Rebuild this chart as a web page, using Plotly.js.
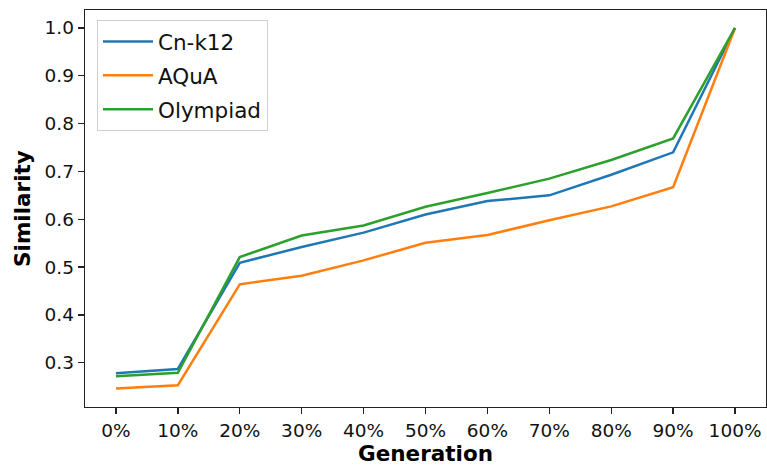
<!DOCTYPE html>
<html>
<head>
<meta charset="utf-8">
<script src="https://cdn.plot.ly/plotly-3.0.1.min.js"></script>
<style>html,body{margin:0;padding:0;background:#fff;}#chart{width:767px;height:466px;}</style>
</head>
<body>
<div id="chart"></div>
<script>
const generations = ['0%','10%','20%','30%','40%','50%','60%','70%','80%','90%','100%'];
const cnk12 = [0.278, 0.287, 0.509, 0.542, 0.572, 0.610, 0.638, 0.650, 0.693, 0.740, 1.0];
const aqua = [0.246, 0.253, 0.464, 0.482, 0.514, 0.551, 0.567, 0.598, 0.627, 0.667, 1.0];
const olympiad = [0.272, 0.279, 0.521, 0.566, 0.587, 0.626, 0.655, 0.685, 0.724, 0.769, 1.0];

const font = 'DejaVu Sans, sans-serif';
const mk = (name, y, color) => ({
  x: generations, y: y, name: name, type: 'scatter', mode: 'lines',
  legendgroup: name,
  line: {color: color, width: 2.5}
});
const data = [
  mk('Cn-k12', cnk12, '#1f77b4'),
  mk('AQuA', aqua, '#ff7f0e'),
  mk('Olympiad', olympiad, '#2ca02c')
];
const axisCommon = {
  showline: true, mirror: true, linecolor: '#222', linewidth: 1.3,
  ticks: 'outside', ticklen: 6, tickwidth: 1.3, tickcolor: '#222',
  showgrid: false, zeroline: false,
  tickfont: {family: font, size: 18.5, color: '#111'}
};
const layout = {
  width: 767, height: 466,
  margin: {l: 85, r: 1, t: 10, b: 59},
  paper_bgcolor: '#fff', plot_bgcolor: '#fff',
  font: {family: font, color: '#111'},
  showlegend: true,
  legend: {
    x: 0.0176, y: 0.975, xanchor: 'left', yanchor: 'top',
    bgcolor: 'rgba(255,255,255,0.8)', bordercolor: '#d0d0d0', borderwidth: 1,
    font: {family: font, size: 21.5, color: '#111'},
    itemwidth: 50,
    tracegroupgap: 3
  },
  xaxis: Object.assign({}, axisCommon, {
    type: 'category', range: [-0.5, 10.5],
    title: {text: '<b>Generation</b>', font: {family: font, size: 21.5, color: '#000'}, standoff: 10}
  }),
  yaxis: Object.assign({}, axisCommon, {
    range: [0.2075, 1.0375], dtick: 0.1, tick0: 0, tickformat: '.1f',
    title: {text: '<b>Similarity</b>', font: {family: font, size: 21.5, color: '#000'}, standoff: 8}
  })
};
Plotly.newPlot('chart', data, layout, {displayModeBar: false, staticPlot: true});
</script>
</body>
</html>
